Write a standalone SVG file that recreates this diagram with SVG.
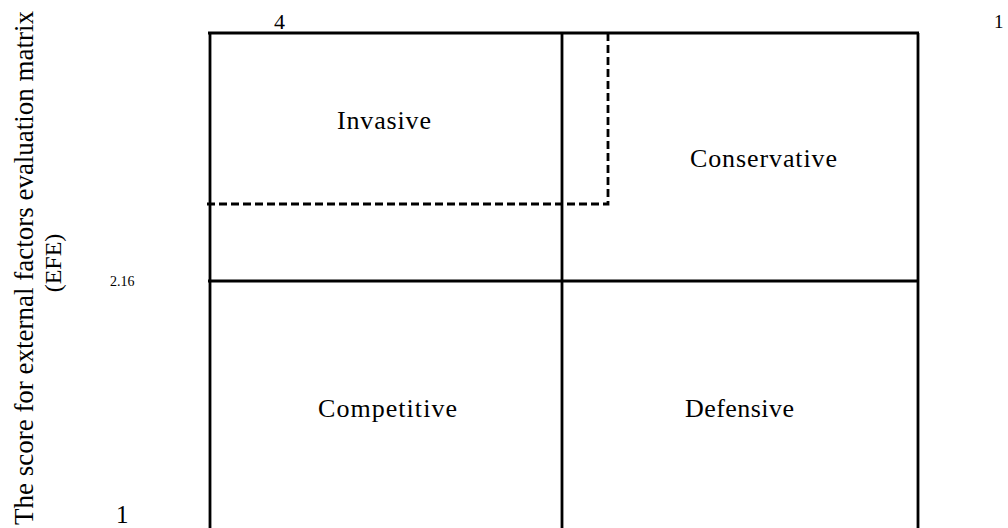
<svg xmlns="http://www.w3.org/2000/svg" width="1008" height="528" viewBox="0 0 1008 528" font-family="Liberation Serif, Times New Roman, DejaVu Serif, serif">
<style>
text{font-family:"Liberation Serif","DejaVu Serif",serif;fill:#000}
.lbl{font-size:26px}
.ln{stroke:#000;stroke-width:2.8;fill:none}
.dash{stroke:#000;stroke-width:2.8;fill:none;stroke-dasharray:8 4}
</style>
<rect width="1008" height="528" fill="#fff"/>
<g id="axis-labels">
<text font-size="27" transform="translate(33,268) rotate(-90)" text-anchor="middle" textLength="514" lengthAdjust="spacingAndGlyphs">The score  for external factors evaluation matrix</text>
<text font-size="24" transform="translate(61,263) rotate(-90)" text-anchor="middle">(EFE)</text>
<text font-size="14" x="110" y="286">2.16</text>
<text font-size="25" x="116" y="523">1</text>
<text font-size="22" x="274" y="29">4</text>
<text font-size="19" x="994" y="28">1</text>
</g>
<g id="connectors">
<line class="ln" x1="208" y1="33" x2="919" y2="33"/>
<line class="ln" x1="208" y1="281" x2="919" y2="281"/>
<line class="ln" x1="210" y1="33" x2="210" y2="528"/>
<line class="ln" x1="562" y1="33" x2="562" y2="528"/>
<line class="ln" x1="918" y1="33" x2="918" y2="528"/>
<polyline class="dash" points="207,204 608,204 608,34"/>
</g>
<g id="invasive"><text class="lbl" x="337" y="129" textLength="94" lengthAdjust="spacing">Invasive</text></g>
<g id="conservative"><text class="lbl" x="690" y="167" textLength="147" lengthAdjust="spacing">Conservative</text></g>
<g id="competitive"><text class="lbl" x="318" y="417" textLength="139" lengthAdjust="spacing">Competitive</text></g>
<g id="defensive"><text class="lbl" x="685" y="417" textLength="109" lengthAdjust="spacing">Defensive</text></g>
</svg>
